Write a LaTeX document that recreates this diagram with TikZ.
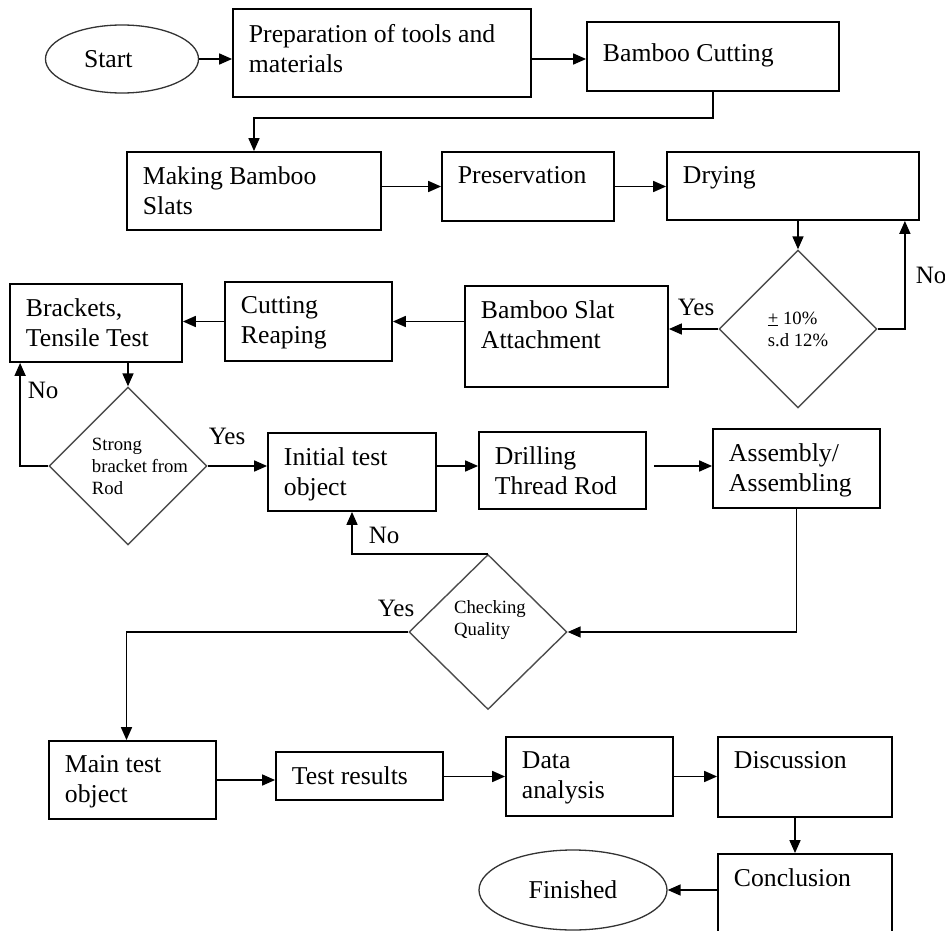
\documentclass[tikz,border=0pt]{standalone}
\usepackage{fontspec}
\setmainfont{Liberation Serif}
\usetikzlibrary{shapes.geometric,arrows.meta}

\tikzset{
  box/.style={draw, rectangle, line width=1.8pt, inner sep=0pt},
  txt/.style={anchor=north west, align=left, inner xsep=16pt, inner ysep=15pt},
  dec/.style={draw=black!70, diamond, aspect=1, line width=1.4pt, inner sep=0pt, minimum width=158pt, minimum height=158pt},
  dtxt/.style={align=left, inner sep=0pt, font=\fontsize{18.7}{22}\selectfont},
  term/.style={draw=black!80, ellipse, line width=1.3pt, inner sep=0pt},
  yn/.style={anchor=base west, inner sep=0pt, font=\fontsize{25}{30}\selectfont}
}

\begin{document}
\begin{tikzpicture}[x=1pt, y=-1pt, >={Triangle[length=13pt,width=11pt]}, line width=1.7pt,
  every node/.style={font=\fontsize{25.7}{30}\selectfont}]
\clip (0,0) rectangle (945,931);

\node[term, minimum width=153pt, minimum height=68pt, text width=76pt, align=left] (start) at (122,59) {Start};
\node[box, minimum width=298pt, minimum height=88pt, label={[txt]north west:Preparation of tools and\\materials}] (prep) at (382,53) {};
\node[box, minimum width=252pt, minimum height=69pt, label={[txt, inner ysep=22pt]north west:Bamboo Cutting}] (bamboo) at (713,56.5) {};

\node[box, minimum width=254pt, minimum height=78pt, label={[txt]north west:Making Bamboo\\Slats}] (making) at (254,191) {};
\node[box, minimum width=172pt, minimum height=69pt, label={[txt]north west:Preservation}] (pres) at (528,186.5) {};
\node[box, minimum width=252pt, minimum height=68pt, label={[txt]north west:Drying}] (drying) at (793,186) {};

\node[dec] (d1) at (798,329) {};
\node[dtxt] (d1t) at (d1) {\underline{+} 10\%\\s.d 12\%};
\node[box, minimum width=203pt, minimum height=101pt, label={[txt]north west:Bamboo Slat\\Attachment}] (slat) at (566.5,336.5) {};
\node[box, minimum width=167pt, minimum height=79pt, label={[txt]north west:Cutting\\Reaping}] (cut) at (308.5,321.5) {};
\node[box, minimum width=172pt, minimum height=78pt, label={[txt]north west:Brackets,\\Tensile Test}] (brackets) at (96,323) {};

\node[dec] (d2) at (128,466) {};
\node[dtxt] (d2t) at ([xshift=12pt]d2) {Strong\\bracket from\\Rod};
\node[box, minimum width=168pt, minimum height=78pt, label={[txt]north west:Initial test\\object}] (init) at (352,472) {};
\node[box, minimum width=167pt, minimum height=77pt, label={[txt]north west:Drilling\\Thread Rod}] (drill) at (562.5,470.5) {};
\node[box, minimum width=167pt, minimum height=79pt, label={[txt]north west:Assembly/\\Assembling}] (assy) at (796.5,468.5) {};

\node[dec, minimum height=155pt] (d3) at (488,632) {};
\node[dtxt] (d3t) at ([xshift=2pt,yshift=12pt]d3) {Checking\\Quality};

\node[box, minimum width=167pt, minimum height=78pt, label={[txt]north west:Main test\\object}] (main) at (132.5,780) {};
\node[box, minimum width=167pt, minimum height=48pt, label={[txt]north west:Test results}] (test) at (359.5,776) {};
\node[box, minimum width=167pt, minimum height=79pt, label={[txt]north west:Data\\analysis}] (data) at (589.5,776.5) {};
\node[box, minimum width=174pt, minimum height=80pt, label={[txt]north west:Discussion}] (disc) at (805,777) {};
\node[box, minimum width=174pt, minimum height=106pt, label={[txt]north west:Conclusion}] (concl) at (805,907) {};
\node[term, minimum width=188pt, minimum height=80pt] (fin) at (573,890) {Finished};

\node[yn] (yes1) at (677,315) {Yes};
\node[yn] (no1) at (915,283) {No};
\node[yn] (no2) at (27,398) {No};
\node[yn] (yes2) at (208,444) {Yes};
\node[yn] (no3) at (368,543) {No};
\node[yn] (yes3) at (377,616) {Yes};

\draw[->] (start) -- (start -| prep.west);
\draw[->] (prep.east |- start) -- (bamboo.west |- start);
\draw[->] (bamboo.south) -- ++(0,26) -| (making.north);
\draw[->] (making.east |- pres) -- (pres.west);
\draw[->] (pres.east) -- (pres.east -| drying.west);
\draw[->] (drying.south -| d1) -- (d1.north);
\draw[->] (d1.east) -| ([xshift=-15pt]drying.south east);
\draw[->] (d1.west) -- (d1.west -| slat.east);
\draw[->] (slat.west |- cut) -- (cut.east);
\draw[->] (cut.west) -- (cut.west -| brackets.east);
\draw[->] (brackets.south -| d2) -- (d2.north);
\draw[->] (d2.west) -| ([xshift=11pt]brackets.south west);
\draw[->] (d2.east) -- (d2.east -| init.west);
\draw[->] (init.east |- d2) -- (drill.west |- d2);
\draw[->, shorten <=7pt] (drill.east |- d2) -- (assy.west |- d2);
\draw[->] (assy.south) |- (d3.east);
\draw[->] (d3.north) -| (init.south);
\draw[->] (d3.west) -| ([xshift=-6pt]main.north);
\draw[->] (main.east) -- (main.east -| test.west);
\draw[->] (test.east |- data) -- (data.west);
\draw[->] (data.east) -- (data.east -| disc.west);
\draw[->] ([xshift=-10pt]disc.south) -- ([xshift=-10pt]concl.north);
\draw[->] (concl.west |- fin) -- (fin.east);

\end{tikzpicture}
\end{document}
